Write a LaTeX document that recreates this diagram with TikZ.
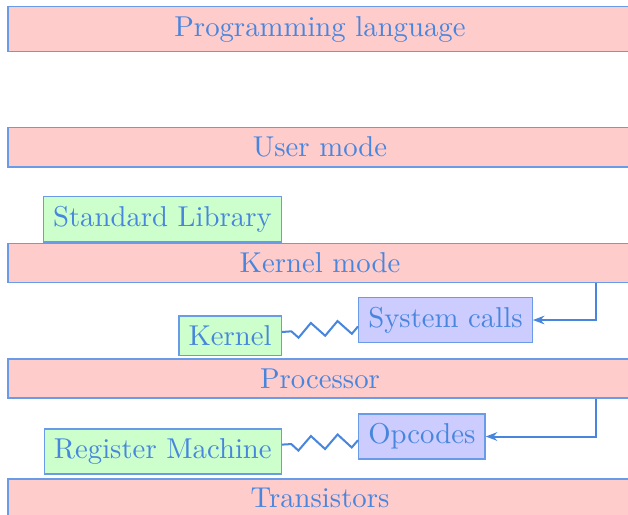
\documentclass[tikz,border=0pt]{standalone}
\usetikzlibrary{decorations.pathmorphing,arrows.meta}
\definecolor{txtblue}{RGB}{72,134,222}
\definecolor{brdblue}{RGB}{105,155,232}
\definecolor{barfill}{RGB}{255,204,204}
\definecolor{grnfill}{RGB}{204,255,204}
\definecolor{blufill}{RGB}{204,204,255}
\begin{document}
\begin{tikzpicture}[x=0.348pt,y=-0.348pt,
  every node/.style={text=txtblue, draw=brdblue, line width=0.5pt},
  barbox/.style={fill=barfill, minimum width=217.2pt},
  grnbox/.style={fill=grnfill},
  blubox/.style={fill=blufill},
  conn/.style={txtblue, line width=0.7pt},
  zz/.style={conn, decorate, decoration={zigzag, segment length=9.3pt, amplitude=2.4pt}},
  arr/.style={conn, -{Stealth[length=4pt,width=3pt,inset=1.3pt]}}]
\useasboundingbox (0,0) rectangle (628,514);
\node[barbox] (pl) at (320,29) {Programming language};
\node[barbox] (um) at (320,147.3) {User mode};
\node[barbox] (km) at (320,263) {Kernel mode};
\node[barbox] (pr) at (320,378.5) {Processor};
\node[barbox] (tr) at (320,498.3) {Transistors};
\node[grnbox, anchor=south east] (sl) at (282,242.5) {Standard Library};
\node[grnbox, anchor=east] (ke) at (282,335.8) {Kernel};
\node[grnbox, anchor=east] (rm) at (282,451.5) {Register Machine};
\node[blubox, anchor=west] (sc) at (358,320) {System calls};
\node[blubox, anchor=west] (op) at (358,436.5) {Opcodes};
\coordinate (kmc) at ([xshift=-12.9pt]km.south east);
\coordinate (prc) at ([xshift=-12.9pt]pr.south east);
\draw[zz] (sc) -- (ke);
\draw[zz] (op) -- (rm);
\draw[arr] (kmc) |- (sc.east);
\draw[arr] (prc) |- (op.east);
\end{tikzpicture}
\end{document}
